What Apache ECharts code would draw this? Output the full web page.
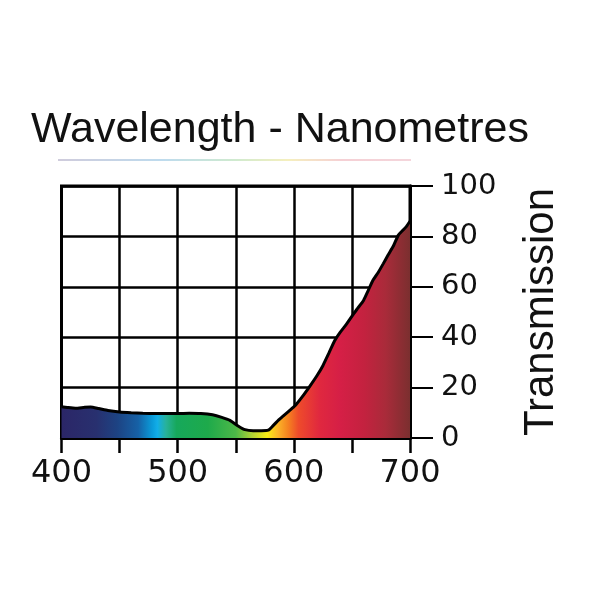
<!DOCTYPE html>
<html>
<head>
<meta charset="utf-8">
<script src="https://cdn.jsdelivr.net/npm/echarts@6/dist/echarts.min.js"></script>
<style>html,body{margin:0;padding:0;background:#fff;}#c{width:600px;height:600px;}</style>
</head>
<body>
<div id="c"></div>
<script>
const titleText = 'Wavelength - Nanometres';
const yName = 'Transmission';
const wavelengths = [400,405,412,420,425,432,440,450,460,470,480,490,500,510,520,530,538,545,552,558,565,572,578,582,587,591,596,601,607,614,620,625,630,635,640,645,651,655,660,664,668,673,677,681,686,690,694,697,700];
const transmission = [12.4,12.1,11.8,12.2,12.3,11.7,10.9,10.3,10.0,9.8,9.7,9.7,9.7,9.8,9.7,9.2,8.2,7.0,4.8,3.3,2.9,2.9,3.1,4.8,7.2,8.8,10.8,12.8,16.2,20.7,24.8,28.7,33.5,38.5,42.0,45.0,49.0,51.5,54.6,58.5,62.5,66.0,69.2,72.5,76.5,80.5,82.5,84.0,86.0];
const xTickLabels = [400,500,600,700];
const yTickLabels = [0,20,40,60,80,100];

const spectrumStops = [
  [0.00,'#2b2667'],[0.10,'#28306f'],[0.16,'#1d4383'],[0.22,'#1661a6'],
  [0.26,'#0a9bd9'],[0.275,'#12aee8'],[0.30,'#28b29a'],[0.33,'#16a85b'],
  [0.42,'#1eaa4b'],[0.50,'#4db848'],[0.55,'#b6d433'],[0.59,'#f8ec15'],
  [0.62,'#fbb528'],[0.65,'#f58220'],[0.68,'#ee4b2b'],[0.74,'#e0283f'],
  [0.80,'#d51f46'],[0.87,'#c3223f'],[0.93,'#a92b3a'],[1.00,'#7b2f2f']
];

const chart = echarts.init(document.getElementById('c'));
const data = wavelengths.map((w,i)=>[w, transmission[i]]);
chart.setOption({
  animation:false,
  backgroundColor:'#fff',
  title:{
    text:titleText, left:26, top:104,
    textStyle:{fontFamily:'Liberation Sans', fontSize:43, fontWeight:'normal', color:'#111'}
  },
  graphic:[{
    type:'line', shape:{x1:58,y1:160,x2:411,y2:160},
    style:{lineWidth:1.5, stroke:new echarts.graphic.LinearGradient(0,0,1,0,[
      {offset:0,color:'#c0bad0'},{offset:0.3,color:'#a8cfe8'},{offset:0.5,color:'#bfe3bf'},
      {offset:0.65,color:'#f2eaa8'},{offset:0.8,color:'#f2c0c6'},{offset:1,color:'#f0c8d0'}])}
  }],
  grid:{left:61.5, right:190, top:186, bottom:162, show:true, borderColor:'#000', borderWidth:3},
  xAxis:{
    type:'value', min:400, max:700, interval:50,
    axisLine:{show:true, lineStyle:{color:'#000', width:3}},
    axisTick:{show:true, length:15, lineStyle:{color:'#000', width:2.5}},
    splitLine:{show:true, lineStyle:{color:'#000', width:2.5}},
    axisLabel:{margin:20, fontFamily:'DejaVu Sans', fontSize:32, color:'#111',
      formatter:v=> xTickLabels.includes(v) ? String(v) : ''}
  },
  yAxis:{
    type:'value', position:'right', min:0, max:100, interval:20,
    name:yName, nameLocation:'middle', nameRotate:90, nameGap:110,
    nameTextStyle:{fontFamily:'Liberation Sans', fontSize:42, color:'#111'},
    axisLine:{show:true, lineStyle:{color:'#000', width:3}},
    axisTick:{show:true, length:23, lineStyle:{color:'#000', width:2}},
    splitLine:{show:true, lineStyle:{color:'#000', width:2.5}},
    axisLabel:{margin:31, fontFamily:'DejaVu Sans', fontSize:29, color:'#111',
      formatter:v=> yTickLabels.includes(v) ? String(v) : ''}
  },
  series:[{
    type:'line', data:data, symbol:'none', smooth:0.2, z:1,
    lineStyle:{color:'#000', width:3},
    areaStyle:{opacity:1, color:new echarts.graphic.LinearGradient(0,0,1,0,
      spectrumStops.map(s=>({offset:s[0], color:s[1]})))}
  }]
});
</script>
</body>
</html>
